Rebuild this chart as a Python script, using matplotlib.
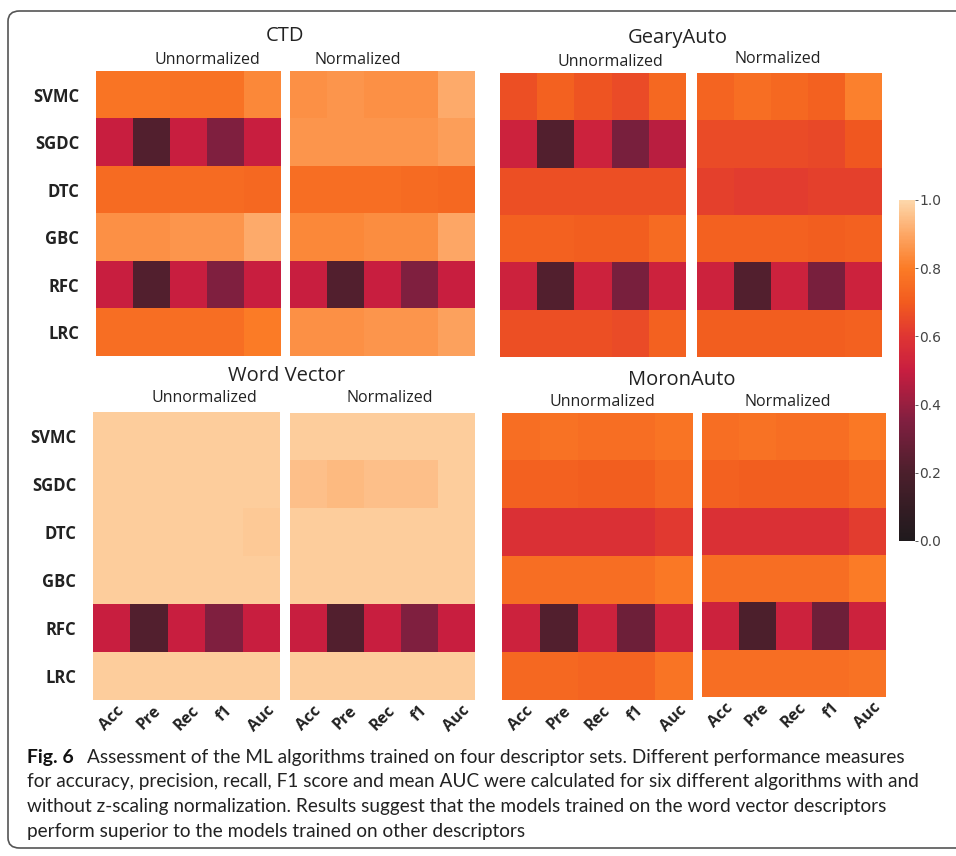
import numpy as np
import matplotlib.pyplot as plt
from matplotlib.colors import LinearSegmentedColormap
from matplotlib.patches import FancyBboxPatch

# rows / columns
algorithms = ["SVMC", "SGDC", "DTC", "GBC", "RFC", "LRC"]
measures = ["Acc", "Pre", "Rec", "f1", "Auc"]

ctd_unnorm = [
    [0.78, 0.78, 0.77, 0.77, 0.83],
    [0.50, 0.22, 0.50, 0.35, 0.50],
    [0.75, 0.75, 0.75, 0.75, 0.74],
    [0.85, 0.85, 0.86, 0.86, 0.91],
    [0.50, 0.22, 0.50, 0.35, 0.50],
    [0.76, 0.76, 0.76, 0.76, 0.80],
]
ctd_norm = [
    [0.85, 0.86, 0.85, 0.85, 0.91],
    [0.86, 0.86, 0.86, 0.86, 0.88],
    [0.76, 0.76, 0.76, 0.75, 0.74],
    [0.83, 0.83, 0.84, 0.84, 0.90],
    [0.50, 0.22, 0.50, 0.35, 0.50],
    [0.85, 0.85, 0.86, 0.86, 0.89],
]
geary_unnorm = [
    [0.67, 0.72, 0.68, 0.66, 0.74],
    [0.52, 0.22, 0.52, 0.33, 0.47],
    [0.67, 0.67, 0.67, 0.67, 0.67],
    [0.72, 0.72, 0.71, 0.71, 0.75],
    [0.52, 0.22, 0.52, 0.33, 0.52],
    [0.67, 0.67, 0.67, 0.66, 0.72],
]
geary_norm = [
    [0.73, 0.76, 0.74, 0.72, 0.81],
    [0.66, 0.66, 0.66, 0.65, 0.69],
    [0.63, 0.62, 0.62, 0.63, 0.63],
    [0.72, 0.72, 0.72, 0.71, 0.72],
    [0.52, 0.22, 0.52, 0.33, 0.52],
    [0.71, 0.71, 0.71, 0.71, 0.72],
]
wv_unnorm = [
    [0.98, 0.98, 0.98, 0.98, 0.98],
    [0.98, 0.98, 0.98, 0.98, 0.98],
    [0.98, 0.98, 0.98, 0.98, 0.97],
    [0.98, 0.98, 0.98, 0.98, 0.98],
    [0.50, 0.22, 0.50, 0.35, 0.50],
    [0.98, 0.98, 0.98, 0.98, 0.98],
]
wv_norm = [
    [0.98, 0.98, 0.98, 0.98, 0.98],
    [0.95, 0.94, 0.95, 0.95, 0.98],
    [0.98, 0.98, 0.98, 0.98, 0.98],
    [0.98, 0.98, 0.98, 0.98, 0.98],
    [0.50, 0.22, 0.50, 0.35, 0.50],
    [0.98, 0.98, 0.98, 0.98, 0.98],
]
moran_unnorm = [
    [0.76, 0.77, 0.76, 0.76, 0.78],
    [0.72, 0.72, 0.71, 0.71, 0.74],
    [0.58, 0.58, 0.58, 0.58, 0.61],
    [0.76, 0.76, 0.76, 0.76, 0.79],
    [0.52, 0.22, 0.52, 0.30, 0.52],
    [0.74, 0.74, 0.73, 0.73, 0.78],
]
moran_norm = [
    [0.76, 0.77, 0.76, 0.76, 0.79],
    [0.72, 0.71, 0.71, 0.71, 0.74],
    [0.58, 0.58, 0.58, 0.58, 0.62],
    [0.76, 0.76, 0.76, 0.76, 0.80],
    [0.52, 0.20, 0.52, 0.30, 0.52],
    [0.76, 0.76, 0.76, 0.76, 0.77],
]

caption_head = "Fig. 6"
caption_first = ("Assessment of the ML algorithms trained on four descriptor sets. "
                 "Different performance measures")
caption_lines = [
    "for accuracy, precision, recall, F1 score and mean AUC were calculated for six different algorithms with and",
    "without z-scaling normalization. Results suggest that the models trained on the word vector descriptors",
    "perform superior to the models trained on other descriptors",
]

cmap = LinearSegmentedColormap.from_list("heat", [
    (0.0, "#1f1a1d"), (0.2, "#4c1f2c"), (0.35, "#801f40"), (0.5, "#c81e40"),
    (0.6, "#df3533"), (0.7, "#f25b1f"), (0.8, "#fb7b26"), (0.9, "#fda664"),
    (1.0, "#fdd7aa"),
])

W, H = 956, 856
fig = plt.figure(figsize=(W / 100, H / 100), dpi=100)


def px_axes(x0, y0, x1, y1):
    return fig.add_axes([x0 / W, 1 - y1 / H, (x1 - x0) / W, (y1 - y0) / H])


# outer frame
frame = FancyBboxPatch((8 / W, 8 / H), 1.2, 1 - 19 / H, transform=fig.transFigure,
                       boxstyle="round,pad=0,rounding_size=0.012", fill=False,
                       edgecolor="#555555", linewidth=1.2)
fig.patches.append(frame)

panels = [
    # (data, box, left labels, bottom labels)
    (ctd_unnorm, (96, 71, 281, 356), True, False),
    (ctd_norm, (290, 71, 475, 356), False, False),
    (geary_unnorm, (500, 73, 686, 357), False, False),
    (geary_norm, (697, 73, 882, 357), False, False),
    (wv_unnorm, (93, 412, 280, 700), True, True),
    (wv_norm, (290, 413, 475, 700), False, True),
    (moran_unnorm, (502, 413, 693, 700), False, True),
    (moran_norm, (702, 413, 886, 697), False, True),
]

font = "Open Sans"
im = None
for data, box, left, bottom in panels:
    ax = px_axes(*box)
    im = ax.imshow(np.array(data), cmap=cmap, vmin=0, vmax=1, aspect="auto")
    for s in ax.spines.values():
        s.set_visible(False)
    ax.tick_params(length=0, pad=4)
    if left:
        ax.set_yticks(range(len(algorithms)))
        ax.set_yticklabels(algorithms, fontsize=12, fontweight="bold",
                           family=font, color="#222222")
        ax.tick_params(axis="y", pad=12)
    else:
        ax.set_yticks([])
    if bottom:
        ax.set_xticks(range(len(measures)))
        ax.set_xticklabels(measures, fontsize=11.5, fontweight="bold", family=font,
                           rotation=45, ha="center", color="#222222")
        ax.tick_params(axis="x", pad=2)
    else:
        ax.set_xticks([])

titles = [("CTD", 285, 36), ("GearyAuto", 678, 38),
          ("Word Vector", 287, 376), ("MoronAuto", 682, 380)]
for t, x, y in titles:
    fig.text(x / W, 1 - y / H, t, fontsize=14.5, family=font,
             ha="center", va="center", color="#222222")

subs = [(207, 60, "Unnormalized"), (358, 60, "Normalized"),
        (610, 62, "Unnormalized"), (778, 59, "Normalized"),
        (204, 398, "Unnormalized"), (390, 398, "Normalized"),
        (602, 402, "Unnormalized"), (788, 402, "Normalized")]
for x, y, t in subs:
    fig.text(x / W, 1 - y / H, t, fontsize=11.5, family=font,
             ha="center", va="center", color="#222222")

# colorbar
cax = px_axes(899, 200, 915, 541)
cb = fig.colorbar(im, cax=cax, ticks=[0, 0.2, 0.4, 0.6, 0.8, 1.0])
cb.outline.set_visible(False)
cb.ax.set_yticklabels(["0.0", "0.2", "0.4", "0.6", "0.8", "1.0"])
cb.ax.tick_params(labelsize=10, colors="#444444", length=2, width=0.6, pad=1)

# caption
cap_font = ["Lato", "DejaVu Sans"]
cap_size = 12.5
renderer = fig.canvas.get_renderer()
probe = fig.text(0, 0, caption_lines[0], fontsize=cap_size, family=cap_font)
width = probe.get_window_extent(renderer).width
probe.remove()
cap_size = cap_size * 894 / width

head = fig.text(27 / W, 1 - 757 / H, caption_head, fontsize=cap_size * 1.02,
                fontweight="bold", family=cap_font, va="center", color="#111111")
fig.text(87 / W, 1 - 757 / H, caption_first, fontsize=cap_size,
         family=cap_font, va="center", color="#222222")
for i, line in enumerate(caption_lines):
    fig.text(27 / W, 1 - (782 + 24.5 * i) / H, line, fontsize=cap_size,
             family=cap_font, va="center", color="#222222")

fig.savefig("out.png", dpi=100)
plt.close(fig)
